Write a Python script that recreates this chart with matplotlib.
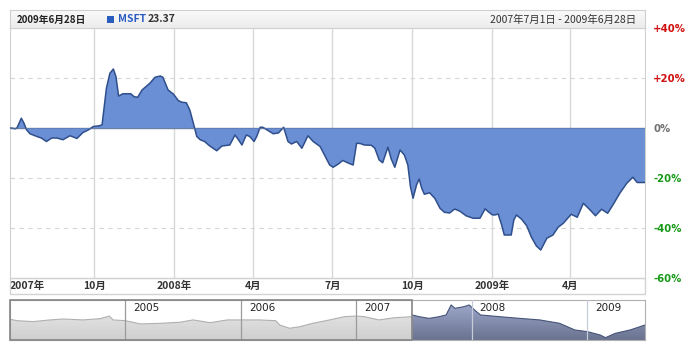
import numpy as np
import pandas as pd
import matplotlib
matplotlib.use("Agg")
import matplotlib.pyplot as plt
import matplotlib.dates as mdates
from matplotlib.patches import Rectangle
from matplotlib.colors import LinearSegmentedColormap

plt.rcParams['font.family'] = ['DejaVu Sans']
CJK = ['Noto Sans CJK JP', 'DejaVu Sans']

# MSFT change from start of range (%)
dates = [
    '2007-06-27', '2007-07-02', '2007-07-04', '2007-07-09', '2007-07-12', '2007-07-15', '2007-07-19',
    '2007-07-27', '2007-08-01', '2007-08-07', '2007-08-13', '2007-08-19', '2007-08-26', '2007-09-03',
    '2007-09-07', '2007-09-11', '2007-09-18', '2007-09-24', '2007-09-30', '2007-10-07', '2007-10-10',
    '2007-10-15', '2007-10-19', '2007-10-23', '2007-10-26', '2007-10-29', '2007-11-03', '2007-11-12',
    '2007-11-16', '2007-11-20', '2007-11-25', '2007-12-04', '2007-12-10', '2007-12-16', '2007-12-19',
    '2007-12-25', '2007-12-31', '2008-01-06', '2008-01-10', '2008-01-15', '2008-01-19', '2008-01-23',
    '2008-01-27', '2008-01-31', '2008-02-05', '2008-02-11', '2008-02-19', '2008-02-25', '2008-03-05',
    '2008-03-11', '2008-03-15', '2008-03-19', '2008-03-24', '2008-03-28', '2008-04-02', '2008-04-05',
    '2008-04-09', '2008-04-12', '2008-04-18', '2008-04-24', '2008-04-30', '2008-05-06', '2008-05-11',
    '2008-05-15', '2008-05-21', '2008-05-27', '2008-06-03', '2008-06-09', '2008-06-17', '2008-06-22',
    '2008-06-28', '2008-07-02', '2008-07-08', '2008-07-13', '2008-07-20', '2008-07-25', '2008-07-29',
    '2008-08-02', '2008-08-07', '2008-08-15', '2008-08-19', '2008-08-24', '2008-08-28', '2008-09-03',
    '2008-09-07', '2008-09-11', '2008-09-17', '2008-09-22', '2008-09-26', '2008-09-29', '2008-10-02',
    '2008-10-06', '2008-10-09', '2008-10-12', '2008-10-15', '2008-10-21', '2008-10-27', '2008-11-02',
    '2008-11-07', '2008-11-13', '2008-11-19', '2008-11-25', '2008-12-02', '2008-12-10', '2008-12-18',
    '2008-12-24', '2008-12-27', '2009-01-01', '2009-01-04', '2009-01-08', '2009-01-12', '2009-01-15',
    '2009-01-23', '2009-01-26', '2009-01-29', '2009-02-04', '2009-02-10', '2009-02-15', '2009-02-21',
    '2009-02-26', '2009-03-01', '2009-03-05', '2009-03-12', '2009-03-18', '2009-03-24', '2009-03-29',
    '2009-04-02', '2009-04-09', '2009-04-16', '2009-04-23', '2009-04-30', '2009-05-07', '2009-05-14',
    '2009-05-20', '2009-05-28', '2009-06-05', '2009-06-12', '2009-06-17', '2009-06-26',
]
change = [
    0.0, -0.3, 0.0, 3.9, 2.0, -0.7, -2.3,
    -3.4, -4.0, -5.4, -4.0, -4.0, -4.7, -3.1,
    -3.6, -4.2, -1.8, -0.8, 0.6, 0.9, 1.3,
    15.9, 21.9, 23.6, 20.5, 12.8, 13.7, 13.7,
    12.5, 12.3, 15.2, 17.9, 20.3, 20.8, 20.3,
    15.2, 13.6, 10.9, 10.3, 10.1, 7.2, 2.0,
    -3.4, -4.7, -5.4, -7.2, -9.1, -7.2, -6.8,
    -2.8, -4.7, -6.8, -2.8, -3.4, -5.4, -3.4,
    0.3, 0.3, -1.0, -2.3, -2.0, 0.3, -5.4,
    -6.4, -5.4, -8.1, -3.1, -5.4, -7.4, -10.8,
    -14.8, -15.7, -14.4, -13.0, -14.1, -14.8, -6.1,
    -6.2, -6.8, -6.9, -8.1, -12.8, -13.9, -7.7,
    -12.5, -15.7, -8.8, -10.8, -14.8, -23.5, -28.1,
    -22.8, -20.4, -24.1, -26.5, -25.9, -28.1, -32.1,
    -33.7, -34.0, -32.4, -33.3, -35.1, -36.1, -36.1,
    -32.3, -33.3, -34.7, -34.8, -34.4, -38.8, -42.8,
    -42.8, -36.8, -34.8, -36.5, -39.2, -43.5, -47.2,
    -48.8, -46.8, -44.1, -42.8, -39.7, -38.1, -36.1,
    -34.5, -35.7, -30.1, -32.5, -35.1, -32.5, -34.1,
    -30.8, -26.1, -22.1, -19.7, -21.8, -21.8,
]

# navigator (price history), unselected part and selected part
nav_old_dates = [
    '2004-01-02', '2004-01-25', '2004-03-15', '2004-05-08', '2004-06-18', '2004-08-20', '2004-10-13',
    '2004-11-11', '2004-11-23', '2005-01-01', '2005-02-17', '2005-04-21', '2005-06-23', '2005-08-03',
    '2005-09-26', '2005-11-19', '2006-01-01', '2006-03-01', '2006-04-21', '2006-05-04', '2006-06-04',
    '2006-07-06', '2006-08-16', '2006-10-09', '2006-11-25', '2007-01-01', '2007-01-26', '2007-03-14',
    '2007-04-30', '2007-06-27',
]
nav_old_price = [
    27.1, 26.2, 25.6, 26.7, 27.3, 26.7, 27.5,
    29.2, 26.7, 26.2, 24.1, 24.5, 25.2, 26.7,
    24.9, 26.7, 26.7, 26.7, 26.2, 23.4, 21.3,
    22.3, 24.5, 26.7, 28.8, 29.2, 28.8, 26.7,
    28.1, 28.8,
]
nav_sel_dates = [
    '2007-06-27', '2007-07-19', '2007-08-19', '2007-09-20', '2007-10-12', '2007-10-28', '2007-11-09',
    '2007-12-08', '2007-12-24', '2008-01-10', '2008-01-29', '2008-03-29', '2008-06-01', '2008-08-03',
    '2008-10-05', '2008-11-22', '2009-01-01', '2009-02-11', '2009-02-27', '2009-03-30', '2009-05-16',
    '2009-07-02',
]
nav_sel_price = [
    29.9, 28.8, 27.7, 28.8, 29.9, 36.4, 34.2,
    35.3, 36.4, 33.1, 29.9, 28.8, 27.7, 26.7,
    24.5, 20.2, 19.1, 16.9, 15.2, 18.0, 20.2,
    23.4,
]

x_ticks = ['2007-06-26', '2007-10-01', '2008-01-01', '2008-04-01', '2008-07-01',
           '2008-10-01', '2009-01-01', '2009-04-01']
x_labels = ['2007年', '10月', '2008年', '4月', '7月', '10月', '2009年', '4月']
y_ticks = [40, 20, 0, -20, -40, -60]
y_labels = ['+40%', '+20%', '0%', '-20%', '-40%', '-60%']
y_colors = ['#d01010', '#d01010', '#707070', '#189a18', '#189a18', '#189a18']
nav_years = ['2005', '2006', '2007', '2008', '2009']

W, H = 700, 350


def box(l, t, r, b):
    return [l / W, 1 - b / H, (r - l) / W, (b - t) / H]


fig = plt.figure(figsize=(7, 3.5), dpi=100)

# ---- main chart ----
ax = fig.add_axes(box(10, 28, 645, 278))
x = pd.to_datetime(dates)
ax.axhline(0, color='#8890a0', lw=1, zorder=1)
ax.fill_between(x, change, 0, facecolor='#6a8fd4', edgecolor='none', zorder=2)
ax.plot(x, change, color='#2f4f8c', lw=1.1, zorder=3)
ax.axhline(0, color='#5a74a8', lw=0.8, alpha=0.6, zorder=3)

ax.set_xlim(pd.Timestamp('2007-06-26'), pd.Timestamp('2009-06-26'))
ax.set_ylim(-60, 40)
for d in x_ticks[1:]:
    ax.axvline(pd.Timestamp(d), color='#d3dbd3', lw=1, zorder=0)
for v in [20, -20, -40]:
    ax.axhline(v, color='#d6d6d6', lw=0.8, ls=(0, (4, 4)), zorder=0)

ax.set_xticks(pd.to_datetime(x_ticks))
ax.set_xticklabels(x_labels, family=CJK, fontsize=7.5, fontweight='bold', color='#333333')
ax.get_xticklabels()[0].set_horizontalalignment('left')
ax.tick_params(axis='x', length=0, pad=2)

ax.yaxis.tick_right()
ax.set_yticks(y_ticks)
ax.set_yticklabels(y_labels, fontsize=7.3, fontweight='bold')
for lab, c in zip(ax.get_yticklabels(), y_colors):
    lab.set_color(c)
ax.tick_params(axis='y', length=0, pad=6)
for s in ax.spines.values():
    s.set_color('#cfd3cf')

# label band border
fig.patches.append(Rectangle((10 / W, 1 - 294 / H), 635 / W, 16 / H, transform=fig.transFigure,
                             fill=False, edgecolor='#d3d3d3', lw=1))

# ---- header ----
hx = fig.add_axes(box(10, 10, 645, 28))
hx.set_xlim(10, 645)
hx.set_ylim(28, 10)
grad = np.linspace(0, 1, 32).reshape(-1, 1)
hx.imshow(grad, aspect='auto', extent=[10, 645, 28, 10],
          cmap=LinearSegmentedColormap.from_list('h', ['#fafafa', '#ececec']))
hx.set_xticks([])
hx.set_yticks([])
for s in hx.spines.values():
    s.set_color('#cfcfcf')
hx.text(17, 19.5, '2009年6月28日', family=CJK, fontsize=7, fontweight='bold',
        color='#222222', va='center')
hx.add_patch(Rectangle((107, 16), 7, 7, facecolor='#2b5cc0', edgecolor='none'))
hx.text(118, 19.5, 'MSFT', family=CJK, fontsize=7.5, fontweight='bold', color='#2a5cc4', va='center')
hx.text(148, 19.5, '23.37', family=CJK, fontsize=7.5, fontweight='bold', color='#333333', va='center')
hx.text(636, 19.5, '2007年7月1日 - 2009年6月28日', family=CJK, fontsize=7.5,
        color='#333333', va='center', ha='right')

# ---- navigator ----
nx = fig.add_axes(box(10, 300, 645, 340))
lo, hi = 13.7, 39.6
xs_old = mdates.date2num(pd.to_datetime(nav_old_dates))
xs_sel = mdates.date2num(pd.to_datetime(nav_sel_dates))
for xs, ys, top, bot, line in [
    (xs_old, nav_old_price, '#ececec', '#cfcfcf', '#b0b0b0'),
    (xs_sel, nav_sel_price, '#a2acd0', '#6a738f', '#465478'),
]:
    poly = nx.fill_between(xs, ys, lo, facecolor='none', edgecolor='none')
    im = nx.imshow(grad, aspect='auto', extent=[xs.min(), xs.max(), lo, hi], origin='upper',
                   cmap=LinearSegmentedColormap.from_list('n', [top, bot]), zorder=1)
    im.set_clip_path(poly.get_paths()[0], transform=nx.transData)
    nx.plot(xs, ys, color=line, lw=0.8, zorder=2)

nx.set_xlim(mdates.date2num(pd.Timestamp('2004-01-02')), mdates.date2num(pd.Timestamp('2009-07-02')))
nx.set_ylim(lo, hi)
for yr in nav_years:
    xv = mdates.date2num(pd.Timestamp(yr + '-01-01'))
    c = '#c5cbd8' if yr >= '2008' else '#9a9a9a'
    nx.axvline(xv, color=c, lw=0.9, zorder=3)
    nx.annotate(yr, (xv, hi), xytext=(8, -3), textcoords='offset pixels', fontsize=7.5,
                color='#222222', va='top', zorder=4)
# darker outline around the unselected part
nx.add_patch(Rectangle((nx.get_xlim()[0], lo), xs_sel[0] - nx.get_xlim()[0], hi - lo,
                       fill=False, edgecolor='#858585', lw=1.2, zorder=5, clip_on=False))
nx.set_xticks([])
nx.set_yticks([])
for s in nx.spines.values():
    s.set_color('#b0b0b0')

fig.savefig('out.png', dpi=100)
